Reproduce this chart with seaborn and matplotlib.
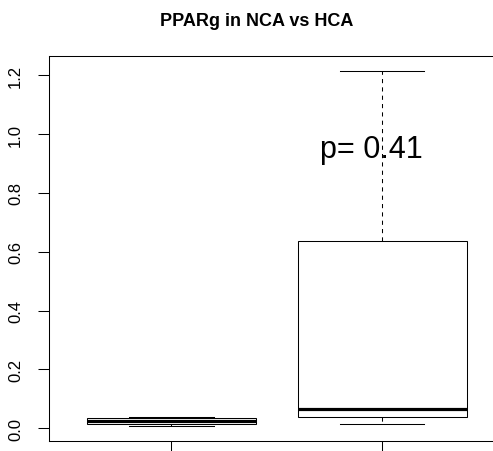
import matplotlib
matplotlib.use("Agg")
import matplotlib.pyplot as plt
import seaborn as sns
import pandas as pd

# ---- data (five-number summaries) ----
groups = ["NCA", "HCA"]
nca_values = [0.007, 0.014, 0.024, 0.033, 0.038]
hca_values = [0.015, 0.038, 0.065, 0.637, 1.216]
yticks = [0.0, 0.2, 0.4, 0.6, 0.8, 1.0, 1.2]
ytick_labels = ["0.0", "0.2", "0.4", "0.6", "0.8", "1.0", "1.2"]
title = "PPARg in NCA vs HCA"
pvalue_text = "p= 0.41"

df = pd.DataFrame({
    "group": [groups[0]] * len(nca_values) + [groups[1]] * len(hca_values),
    "value": nca_values + hca_values,
})

plt.rcParams["font.family"] = ["Liberation Sans", "DejaVu Sans"]

W, H = 493, 452
fig = plt.figure(figsize=(W / 100, H / 100), dpi=100)
ax = fig.add_axes([49 / W, (H - 441.7) / H, (504.6 - 49) / W, (441.7 - 57) / H])

sns.boxplot(
    data=df, x="group", y="value", order=groups, ax=ax,
    color="white", linecolor="black", linewidth=0.75, width=0.8,
    whis=1.5, fliersize=0, capwidths=0.4,
    medianprops=dict(linewidth=2.3, solid_capstyle="butt"),
    whiskerprops=dict(linestyle=(0, (4, 4))),
)

ax.set_xlim(-0.58, 1.58)
ax.set_ylim(-0.043, 1.266)
ax.set_yticks(yticks)
ax.set_yticklabels(ytick_labels, rotation=90, va="center", fontsize=12)
ax.set_xticks([0, 1])
ax.set_xticklabels(["", ""])
ax.set_xlabel("")
ax.set_ylabel("")
ax.tick_params(axis="both", direction="out", length=7.7, width=0.75, color="black")
ax.tick_params(axis="y", pad=11)
for s in ax.spines.values():
    s.set_linewidth(0.75)
    s.set_color("black")

ax.text(0.95, 0.95, pvalue_text, ha="center", va="center", fontsize=22)

fig.text(257 / W, 1 - 25.7 / H, title, ha="center", va="baseline",
         fontsize=13, fontweight="bold")

fig.savefig("out.png", dpi=100)
